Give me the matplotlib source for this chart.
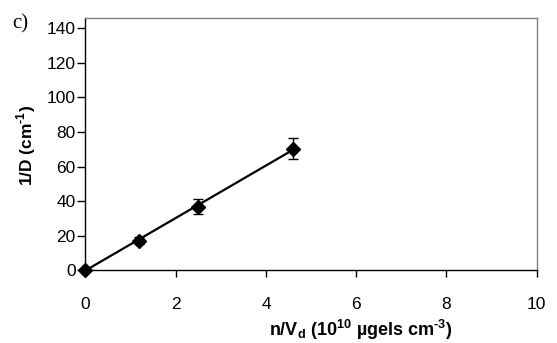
import numpy as np
import matplotlib
matplotlib.use("Agg")
import matplotlib.pyplot as plt

# Data
x_vals = [0.0, 1.19, 2.50, 4.59]
y_vals = [0.0, 17.2, 36.9, 70.3]
y_err = [0.0, 2.0, 4.2, 6.1]
x_ticks = [0, 2, 4, 6, 8, 10]
y_ticks = [0, 20, 40, 60, 80, 100, 120, 140]

plt.rcParams['font.family'] = ['Liberation Sans', 'DejaVu Sans']
plt.rcParams['mathtext.fontset'] = 'custom'
plt.rcParams['mathtext.rm'] = 'Liberation Sans:bold'
plt.rcParams['mathtext.bf'] = 'Liberation Sans:bold'

fig = plt.figure(figsize=(5.57, 3.43), dpi=100)
ax = fig.add_axes([0.1535, 0.2114, 0.9636 - 0.1535, 0.9475 - 0.2114])

# trendline through origin (least squares)
xa = np.array(x_vals); ya = np.array(y_vals)
m = np.sum(xa * ya) / np.sum(xa * xa)
xl = np.array([xa.min(), xa.max()])
ax.plot(xl, m * xl, color='black', lw=1.6, zorder=2)

ax.errorbar(x_vals, y_vals, yerr=y_err, fmt='D', color='black', ms=7.2,
            ecolor='black', elinewidth=1.0, capsize=3.5, capthick=1.0,
            zorder=3, clip_on=False)

ax.set_xlim(0, 10)
ax.set_ylim(0, 145.8)
ax.set_xticks(x_ticks)
ax.set_yticks(y_ticks)
ax.tick_params(axis='x', direction='out', length=5, width=1, pad=14, labelsize=12.5)
ax.tick_params(axis='y', direction='out', length=6, width=1, pad=1, labelsize=12.5)

for s in ['left', 'bottom']:
    ax.spines[s].set_color('black')
    ax.spines[s].set_linewidth(1.0)
for s in ['top', 'right']:
    ax.spines[s].set_color('#808080')
    ax.spines[s].set_linewidth(1.0)

fig.text(361 / 557, 1 - 330 / 343, r'n/V$_\mathregular{d}$ (10$^\mathregular{10}$ µgels cm$^{\text{-3}}$)',
         ha='center', va='center', fontsize=13, fontweight='bold')
fig.text(26 / 557, 1 - 145 / 343, r'1/D (cm$^{\text{-1}}$)', rotation=90,
         ha='center', va='center', fontsize=12.5, fontweight='bold')
fig.text(12 / 557, 1 - 24 / 343, 'c)', ha='left', va='center', fontsize=15,
         family='Liberation Serif')

fig.savefig('out.png', dpi=100)
